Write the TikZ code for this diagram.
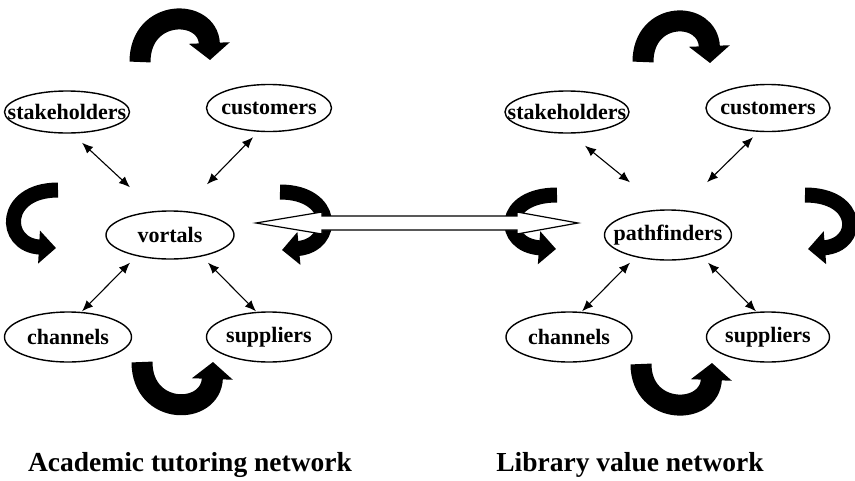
\documentclass[tikz,border=0pt]{standalone}
\usepackage{fontspec}
\setmainfont{Liberation Serif}
\usetikzlibrary{shapes.geometric,arrows.meta}

\begin{document}
\begin{tikzpicture}[x=1pt,y=-1pt,
  font=\fontsize{22}{26}\selectfont\bfseries,
  actor/.style={ellipse,draw,line width=1.4pt,inner sep=0pt,minimum height=48pt},
  duo/.style={{Latex[length=11pt,width=9pt]}-{Latex[length=11pt,width=9pt]},line width=1.1pt},
  turn/.style={line width=21pt,-{Triangle[length=17pt,width=40pt]}},
  side/.style={line width=15pt,-{Triangle[length=17pt,width=32pt]}},
  title/.style={anchor=base,font=\fontsize{27.5}{32}\selectfont\bfseries}]
\useasboundingbox (0,0) rectangle (855,480);
% academic tutoring network
\node[actor,minimum width=125pt,minimum height=42pt] (stk1) at (67,112) {\makebox[0pt]{stakeholders}};
\node[actor,minimum width=125pt,minimum height=47pt] (cus1) at (269,108) {\makebox[0pt]{customers}};
\node[actor,minimum width=128pt] (vor) at (170,235) {\makebox[0pt]{vortals}};
\node[actor,minimum width=127pt,minimum height=50pt] (cha1) at (68,337) {\makebox[0pt]{channels}};
\node[actor,minimum width=125pt,minimum height=50pt] (sup1) at (269,337) {\makebox[0pt]{suppliers}};
\draw[duo] ([shift={(15,9)}]stk1.south) -- ([shift={(-40,-23)}]vor.north);
\draw[duo] ([shift={(-16,5)}]cus1.south) -- ([shift={(37,-26)}]vor.north);
\draw[duo] ([shift={(-40,3)}]vor.south) -- ([shift={(14,0)}]cha1.north);
\draw[duo] ([shift={(38,3)}]vor.south) -- ([shift={(-13,0)}]sup1.north);
% library value network
\node[actor,minimum width=124pt,minimum height=42pt] (stk2) at (567,112) {\makebox[0pt]{stakeholders}};
\node[actor,minimum width=124pt,minimum height=47pt] (cus2) at (768,108) {\makebox[0pt]{customers}};
\node[actor,minimum width=127pt,minimum height=50pt] (pat) at (668,235) {\makebox[0pt]{pathfinders}};
\node[actor,minimum width=126pt,minimum height=50pt] (cha2) at (569,337) {\makebox[0pt]{channels}};
\node[actor,minimum width=123pt,minimum height=50pt] (sup2) at (768,337) {\makebox[0pt]{suppliers}};
\draw[duo] ([shift={(18,12)}]stk2.south) -- ([shift={(-38,-27)}]pat.north);
\draw[duo] ([shift={(-15,5)}]cus2.south) -- ([shift={(39,-27)}]pat.north);
\draw[duo] ([shift={(-38,2)}]pat.south) -- ([shift={(13,0)}]cha2.north);
\draw[duo] ([shift={(40,2)}]pat.south) -- ([shift={(-12,0)}]sup2.north);
% turning arrows
\draw[turn] (140,62) .. controls (140,8) and (208,8) .. (210,60);
\draw[side] (58,190) .. controls (2,190) and (2,245) .. (56,248);
\draw[side] (280,192) .. controls (336,192) and (336,245) .. (282,250);
\draw[turn] (142,362) .. controls (142,416) and (211,416) .. (213,362);
\draw[turn] (643,62) .. controls (643,10) and (708,10) .. (710,63);
\draw[side] (557,195) .. controls (500,195) and (500,245) .. (556,249);
\draw[side] (805,195) .. controls (861,195) and (861,245) .. (808,249);
\draw[turn] (641,364) .. controls (641,416) and (710,416) .. (712,363);
% link between the networks
\coordinate (linkL) at (256,223);
\coordinate (linkR) at (578,223);
\draw[line width=1.2pt,fill=white] (linkL) -- ++(66,-11) -- ++(0,4) -- ++(195,0) -- ++(0,-4)
  -- (linkR) -- ++(-61,11) -- ++(0,-4) -- ++(-195,0) -- ++(0,4) -- cycle;
% titles
\node[title] (title1) at (190,471) {Academic tutoring network};
\node[title] (title2) at (630,471) {Library value network};
\end{tikzpicture}
\end{document}
